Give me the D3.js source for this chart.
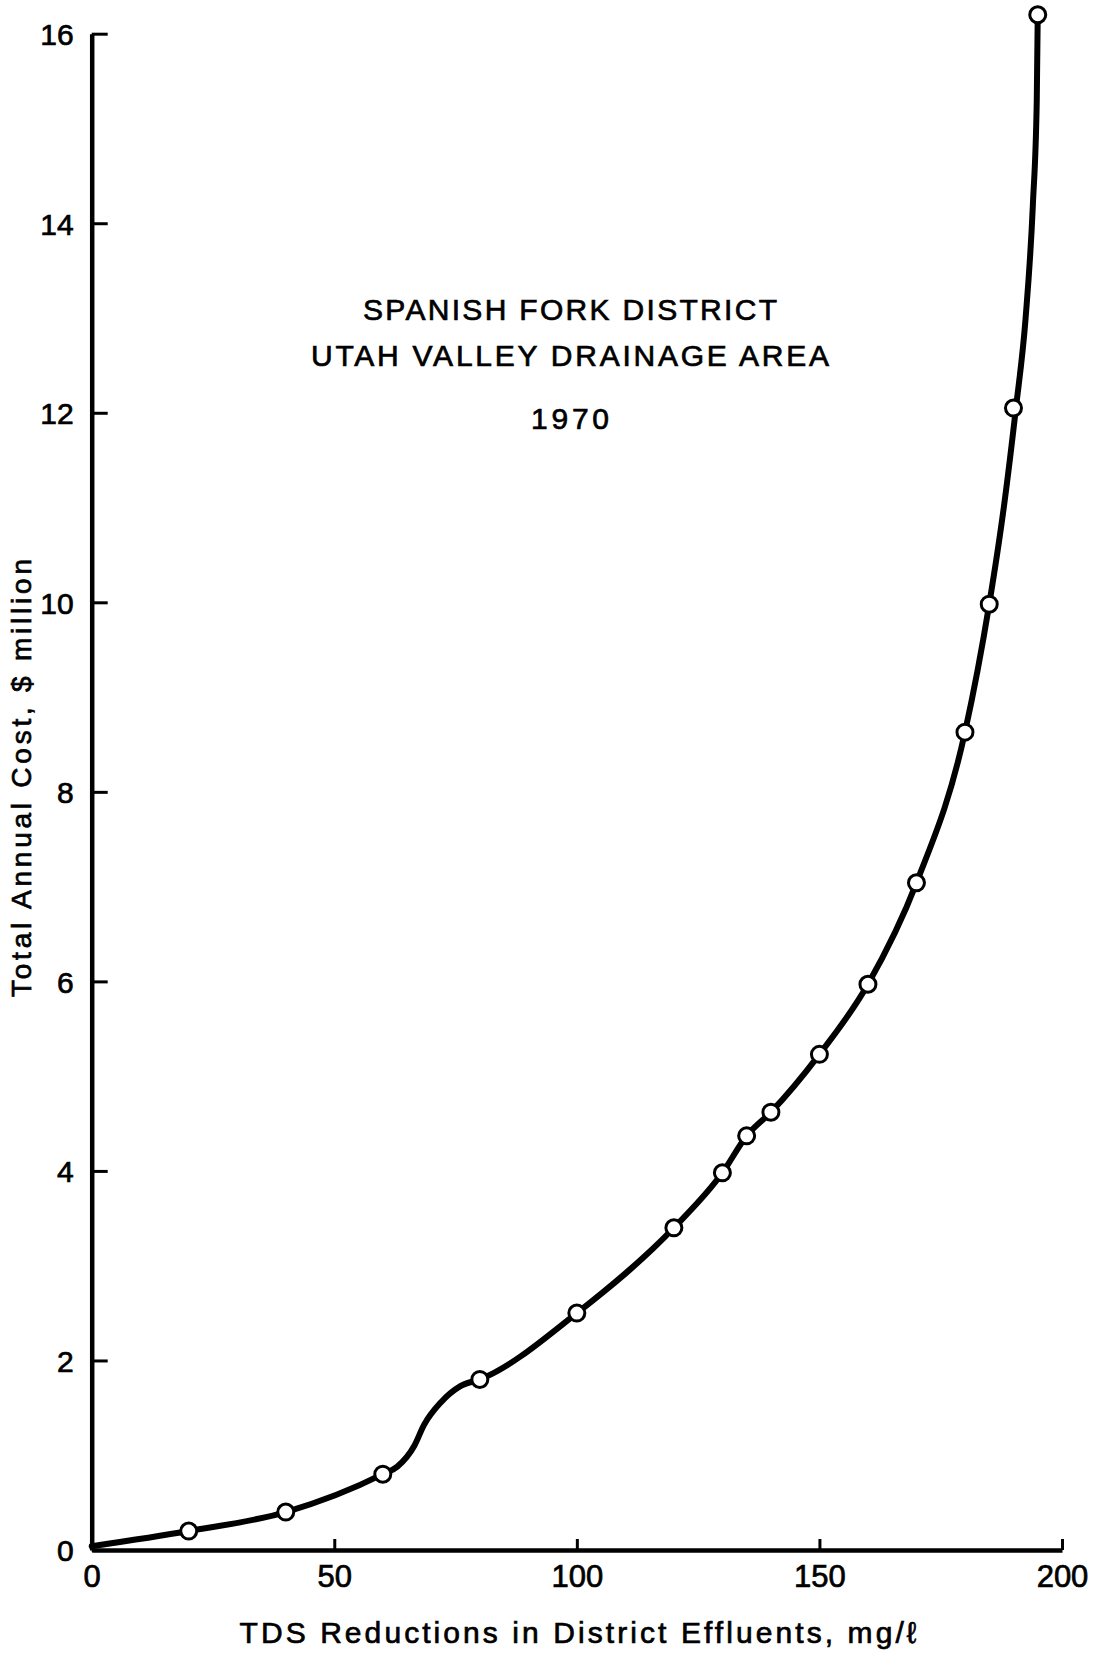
<!DOCTYPE html>
<html>
<head>
<meta charset="utf-8">
<script src="https://cdn.jsdelivr.net/npm/d3@7"></script>
<style>
  body { margin: 0; background: #fff; }
  text { font-family: "Liberation Sans", Arial, sans-serif; fill: #000; stroke: #000; stroke-width: 0.7px; }
</style>
</head>
<body>
<script>
// plotted points (TDS reduction mg/l, cost $ million)
const reduction = [20, 40, 60, 80, 100, 120, 130, 135, 140, 150, 160, 170, 180, 185, 190, 195];
const cost = [0.2, 0.4, 0.8, 1.8, 2.5, 3.4, 3.98, 4.37, 4.62, 5.23, 5.97, 7.04, 8.63, 9.98, 12.05, 16.2];

// hand-drawn curve
const curveX = [0, 20, 40, 60, 63, 66.5, 68.5, 72, 76, 80, 100, 120, 130, 135, 140, 150, 160, 170, 180, 185, 188, 190.5, 192.5, 194, 194.8, 195];
const curveY = [0.04, 0.2, 0.4, 0.8, 0.88, 1.1, 1.32, 1.56, 1.73, 1.8, 2.5, 3.4, 3.98, 4.37, 4.62, 5.23, 5.97, 7.04, 8.63, 9.98, 11.0, 12.05, 13.0, 14.2, 15.3, 16.2];

const xTicks = [0, 50, 100, 150, 200];
const yTicks = [0, 2, 4, 6, 8, 10, 12, 14, 16];

const titleLines = ["SPANISH FORK DISTRICT", "UTAH VALLEY DRAINAGE AREA", "1970"];
const xTitle = "TDS Reductions in District Effluents, mg/\u2113";
const yTitle = "Total Annual Cost, $ million";

const width = 1102;
const height = 1654;

const svg = d3.select('body').append('svg')
  .attr('width', width)
  .attr('height', height);

const x = d3.scaleLinear().domain([0, 200]).range([91.7, 1062]);
const y = d3.scaleLinear().domain([0, 16]).range([1550, 33.7]);

// axes: ticks point inward
const xAxis = svg.append('g')
  .attr('transform', `translate(0,${y(0)})`)
  .call(d3.axisBottom(x).tickValues(xTicks).tickSizeInner(-11).tickSizeOuter(0).tickPadding(15));

const yAxis = svg.append('g')
  .attr('transform', `translate(${x(0)},0)`)
  .call(d3.axisLeft(y).tickValues(yTicks).tickSizeInner(-16).tickSizeOuter(0).tickPadding(18));

[xAxis, yAxis].forEach(function(g) {
  g.select('.domain').attr('stroke', '#000').attr('stroke-width', 4.5);
  g.selectAll('.tick line').attr('stroke', '#000').attr('stroke-width', 3);
  g.selectAll('.tick text')
    .style('font-family', '"Liberation Sans", Arial, sans-serif')
    .attr('font-size', 31)
    .attr('fill', '#000');
});
yAxis.selectAll('.tick text').attr('dy', '0.36em').attr('font-size', 30);

// curve
const line = d3.line()
  .x(function(d) { return x(d[0]); })
  .y(function(d) { return y(d[1]); })
  .curve(d3.curveMonotoneX);

svg.append('path')
  .datum(d3.zip(curveX, curveY))
  .attr('d', line)
  .attr('fill', 'none')
  .attr('stroke', '#000')
  .attr('stroke-width', 6)
  .attr('stroke-linejoin', 'round')
  .attr('stroke-linecap', 'round');

svg.selectAll('.pt')
  .data(d3.zip(reduction, cost))
  .enter().append('circle')
  .classed('pt', true)
  .attr('cx', function(d) { return x(d[0]); })
  .attr('cy', function(d) { return y(d[1]); })
  .attr('r', 8)
  .attr('fill', '#fff')
  .attr('stroke', '#000')
  .attr('stroke-width', 3);

// title block
const titleY = [320, 366, 429];
const titleW = [414, 518, 78];
svg.selectAll('.title')
  .data(titleLines)
  .enter().append('text')
  .classed('title', true)
  .attr('x', 570)
  .attr('y', function(d, i) { return titleY[i]; })
  .attr('text-anchor', 'middle')
  .attr('font-size', 30)
  .attr('textLength', function(d, i) { return titleW[i]; })
  .attr('lengthAdjust', 'spacing')
  .text(function(d) { return d; });

svg.append('text')
  .attr('x', 578)
  .attr('y', 1643)
  .attr('text-anchor', 'middle')
  .attr('font-size', 30)
  .attr('textLength', 677)
  .attr('lengthAdjust', 'spacing')
  .text(xTitle);

svg.append('text')
  .attr('transform', 'translate(31,778) rotate(-90)')
  .attr('text-anchor', 'middle')
  .attr('font-size', 28)
  .attr('textLength', 438)
  .attr('lengthAdjust', 'spacing')
  .text(yTitle);
</script>
</body>
</html>
